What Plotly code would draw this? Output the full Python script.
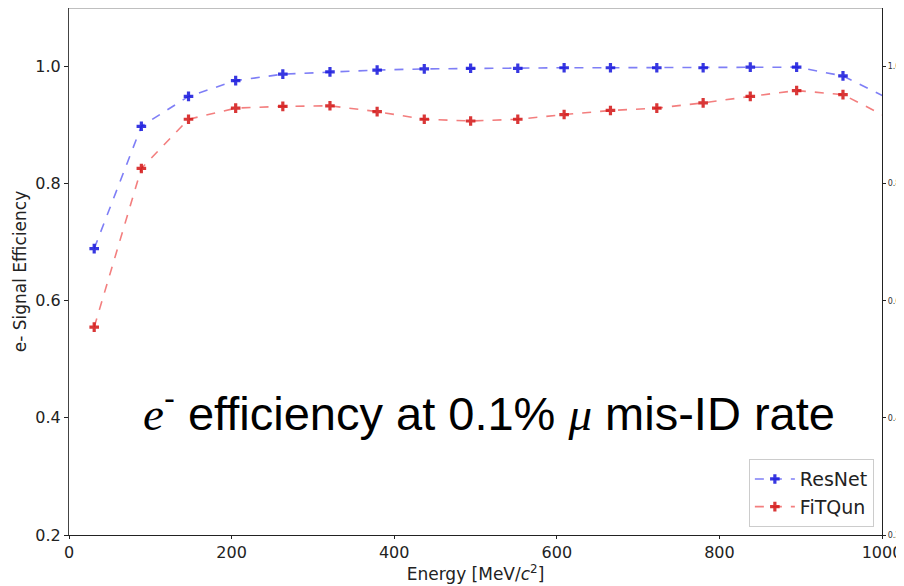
import plotly.graph_objects as go

# Energy bin centres [MeV/c^2]
energy = [31, 89, 147, 205, 263, 321, 379, 437, 494, 552, 609, 666, 723, 780, 838, 895, 952, 1010]

# e- signal efficiency at 0.1% mu mis-ID rate
resnet = [0.689, 0.898, 0.949, 0.976, 0.987, 0.991, 0.994, 0.996, 0.997, 0.997, 0.998,
          0.998, 0.998, 0.998, 0.999, 0.999, 0.984, 0.944]
fitqun = [0.555, 0.826, 0.910, 0.929, 0.932, 0.933, 0.923, 0.910, 0.907, 0.910, 0.918,
          0.925, 0.929, 0.938, 0.949, 0.959, 0.952, 0.911]

yticks = [0.2, 0.4, 0.6, 0.8, 1.0]

fig = go.Figure()

fig.add_trace(go.Scatter(
    x=energy, y=resnet, name='ResNet', mode='lines+markers',
    line=dict(color='rgba(40,40,240,0.6)', dash='dash', width=1.6),
    marker=dict(symbol='cross', size=8, color='rgba(20,20,220,0.85)')))
fig.add_trace(go.Scatter(
    x=energy, y=fitqun, name='FiTQun', mode='lines+markers',
    line=dict(color='rgba(235,40,40,0.6)', dash='dash', width=1.6),
    marker=dict(symbol='cross', size=8, color='rgba(210,20,20,0.85)')))

# twin axis on the right, same scale
fig.add_trace(go.Scatter(x=[None], y=[None], yaxis='y2', showlegend=False))

# the page body adds 8px at left/top, so the figure is sized to fit
fig.update_layout(
    width=896, height=578,
    margin=dict(l=61, r=22, t=0, b=51),
    paper_bgcolor='white', plot_bgcolor='white',
    font=dict(family='DejaVu Sans', size=16, color='#222'),
    xaxis=dict(range=[0, 1000], dtick=200, showgrid=False, zeroline=False,
               showline=True, linecolor='#222', linewidth=1.2, automargin=False,
               ticks='outside', ticklen=3, tickcolor='#222',
               title=dict(text='Energy [MeV/<i>c</i><sup>2</sup>]', standoff=0,
                          font=dict(size=17))),
    yaxis=dict(range=[0.2, 1.1], tickvals=yticks, tickformat='.1f',
               showgrid=False, zeroline=False, automargin=False,
               showline=True, linecolor='#444', linewidth=1.2,
               ticks='outside', ticklen=4, tickcolor='#222',
               title=dict(text='e- Signal Efficiency', standoff=4, font=dict(size=17))),
    yaxis2=dict(range=[0.2, 1.1], tickvals=yticks, tickformat='.1f',
                overlaying='y', side='right', showgrid=False, zeroline=False,
                showline=True, linecolor='#222', linewidth=1.2, automargin=False,
                ticks='outside', ticklen=3, tickcolor='#222',
                tickfont=dict(size=8, color='#333')),
    legend=dict(x=0.99, y=0.015, xanchor='right', yanchor='bottom',
                bgcolor='rgba(255,255,255,0.9)', bordercolor='#ccc', borderwidth=1,
                font=dict(size=19, color='#222'), itemwidth=40),
    shapes=[dict(type='line', xref='paper', yref='paper', x0=0, x1=1, y0=1, y1=1,
                 line=dict(color='#aaa', width=1.5))],
    annotations=[dict(
        text='<span style="font-family:Liberation Serif"><i>e</i></span><sup>-</sup>'
             ' efficiency at 0.1% '
             '<span style="font-family:Liberation Serif"><i>μ</i></span> mis-ID rate',
        xref='paper', yref='paper', x=0.517, y=0.177,
        showarrow=False, font=dict(family='Liberation Sans', size=47, color='black'))],
)

fig.write_html("out.html")
